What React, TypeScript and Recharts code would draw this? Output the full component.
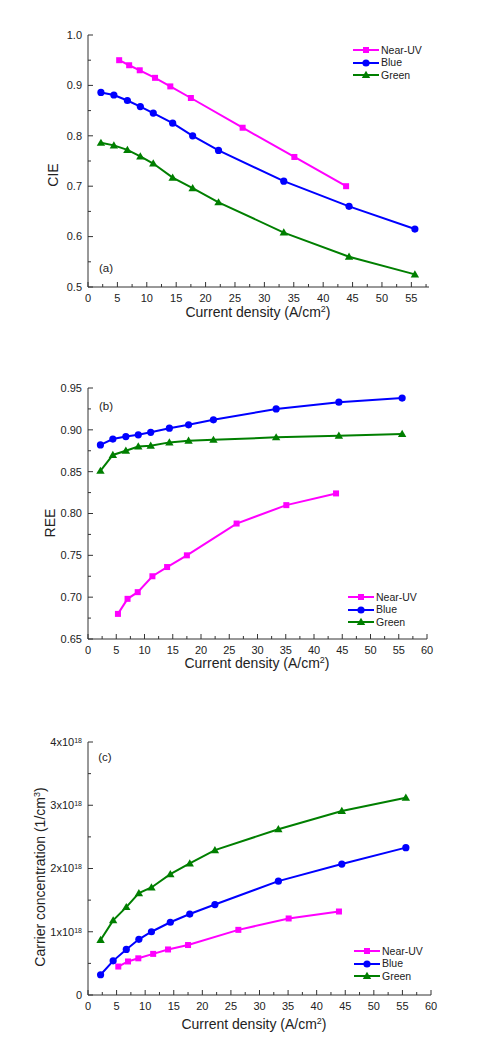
import React from 'react'
import { Line, LineChart, XAxis, YAxis } from 'recharts'

// ── Data ──

const currentNearUV = [5.3, 7.0, 8.8, 11.4, 14.0, 17.5, 26.3, 35.1, 43.9]
const currentBlueGreen = [2.2, 4.4, 6.7, 8.9, 11.1, 14.4, 17.8, 22.2, 33.3, 44.4, 55.6]

const cieNearUV = [0.95, 0.94, 0.93, 0.915, 0.898, 0.875, 0.816, 0.758, 0.7]
const cieBlue = [0.886, 0.881, 0.87, 0.858, 0.845, 0.825, 0.8, 0.771, 0.71, 0.66, 0.615]
const cieGreen = [0.786, 0.781, 0.772, 0.759, 0.745, 0.717, 0.696, 0.668, 0.608, 0.56, 0.525]

const reeNearUV = [0.68, 0.698, 0.706, 0.725, 0.736, 0.75, 0.788, 0.81, 0.824]
const reeBlue = [0.882, 0.889, 0.892, 0.894, 0.897, 0.902, 0.906, 0.912, 0.925, 0.933, 0.938]
const reeGreen = [0.851, 0.87, 0.875, 0.88, 0.881, 0.885, 0.887, 0.888, 0.891, 0.893, 0.895]

const carrierNearUV = [0.45e18, 0.53e18, 0.58e18, 0.65e18, 0.72e18, 0.79e18, 1.03e18, 1.21e18, 1.32e18]
const carrierBlue = [0.32e18, 0.54e18, 0.72e18, 0.88e18, 1.0e18, 1.15e18, 1.28e18, 1.43e18, 1.8e18, 2.07e18, 2.33e18]
const carrierGreen = [0.87e18, 1.18e18, 1.39e18, 1.61e18, 1.7e18, 1.91e18, 2.08e18, 2.29e18, 2.62e18, 2.91e18, 3.12e18]

const xMajorA = [0, 5, 10, 15, 20, 25, 30, 35, 40, 45, 50, 55]
const xMajorBC = [0, 5, 10, 15, 20, 25, 30, 35, 40, 45, 50, 55, 60]
const yMajorA = [0.5, 0.6, 0.7, 0.8, 0.9, 1.0]
const yMajorB = [0.65, 0.7, 0.75, 0.8, 0.85, 0.9, 0.95]
const yMajorC = [0, 1e18, 2e18, 3e18, 4e18]

const SERIES = ['Near-UV', 'Blue', 'Green']

// ── Style ──

const COLORS = { nuv: '#ff00ff', blue: '#0000ff', green: '#007f00' }
const AXIS = '#333333'
const TEXT = '#222222'
const FONT = '"Liberation Sans", Arial, Helvetica, sans-serif'

const zip = (xs: number[], ys: number[]) => xs.map((x, i) => ({ x, y: ys[i] }))

// majors plus midpoints for the minor ticks
function withMinor(majors: number[], stopAt?: number) {
  const out: number[] = []
  majors.forEach((m, i) => {
    out.push(m)
    const next = i < majors.length - 1 ? majors[i + 1] : stopAt !== undefined ? m + (m - majors[i - 1]) : undefined
    if (next !== undefined) {
      const mid = (m + next) / 2
      if (stopAt === undefined || mid <= stopAt) out.push(mid)
    }
  })
  return out
}

// ── Markers ──

function Marker({ shape, cx, cy, color }: { shape: string; cx: number; cy: number; color: string }) {
  if (shape === 'square') return <rect fill={color} height={6} width={6} x={cx - 3} y={cy - 3} />
  if (shape === 'circle') return <circle cx={cx} cy={cy} fill={color} r={3.6} />
  return <polygon fill={color} points={`${cx},${cy - 4.2} ${cx + 4.2},${cy + 3} ${cx - 4.2},${cy + 3}`} />
}

const dotFor = (shape: string, color: string) => (p: any) => (
  <g key={`${shape}-${p.index}`}>
    <Marker color={color} cx={p.cx} cy={p.cy} shape={shape} />
  </g>
)

// ── Ticks: drawn inward, labels only on the bottom/left majors ──

type Side = 'bottom' | 'top' | 'left' | 'right'

function tickFor(side: Side, majors: number[], label?: (v: number) => React.ReactNode) {
  return (props: any) => {
    const { x, y, payload } = props
    const v = payload.value as number
    const major = majors.some((m) => Math.abs(m - v) < Math.abs(m) * 1e-6 + 1e-9)
    const len = major ? 5 : 3
    let line
    if (side === 'bottom') line = <line x1={x} x2={x} y1={y} y2={y - len} />
    else if (side === 'top') line = <line x1={x} x2={x} y1={y} y2={y + len} />
    else if (side === 'left') line = <line x1={x} x2={x + len} y1={y} y2={y} />
    else line = <line x1={x} x2={x - len} y1={y} y2={y} />
    return (
      <g>
        <g stroke={AXIS} strokeWidth={1}>{line}</g>
        {major && label && side === 'bottom' && (
          <text fill={TEXT} fontFamily={FONT} fontSize={11} textAnchor="middle" x={x} y={y + 15}>
            {label(v)}
          </text>
        )}
        {major && label && side === 'left' && (
          <text dy="0.35em" fill={TEXT} fontFamily={FONT} fontSize={11} textAnchor="end" x={x - 6} y={y}>
            {label(v)}
          </text>
        )}
      </g>
    )
  }
}

const fmtInt = (v: number) => String(v)
const fmtFixed = (d: number) => (v: number) => v.toFixed(d)
const fmtSci = (v: number) => {
  if (v === 0) return '0'
  const m = Math.round(v / 1e18)
  return (
    <>
      {`${m}x10`}
      <tspan baselineShift="super" fontSize={7}>
        18
      </tspan>
    </>
  )
}

// ── Legend (overlay, so it does not take room from the plot) ──

function LegendBox({ left, top }: { left: number; top: number }) {
  const rows = [
    { name: SERIES[0], color: COLORS.nuv, shape: 'square' },
    { name: SERIES[1], color: COLORS.blue, shape: 'circle' },
    { name: SERIES[2], color: COLORS.green, shape: 'triangle' },
  ]
  return (
    <div style={{ position: 'absolute', left, top, fontFamily: FONT, fontSize: 10.5, color: TEXT }}>
      {rows.map((r) => (
        <div key={r.name} style={{ display: 'flex', alignItems: 'center', height: 12.4 }}>
          <svg height={12} style={{ display: 'block' }} width={28}>
            <line stroke={r.color} strokeWidth={2} x1={1} x2={27} y1={6} y2={6} />
            <Marker color={r.color} cx={14} cy={6} shape={r.shape} />
          </svg>
          <span style={{ marginLeft: 1, lineHeight: 1 }}>{r.name}</span>
        </div>
      ))}
    </div>
  )
}

// ── Panel ──

type PanelProps = {
  top: number
  height: number
  plotTop: number
  plotBottom: number
  plotRight: number
  xDomain: [number, number]
  xMajor: number[]
  xTicks: number[]
  yDomain: [number, number]
  yMajor: number[]
  yTicks: number[]
  yFmt: (v: number) => React.ReactNode
  nuv: number[]
  blue: number[]
  green: number[]
  legendPos: { left: number; top: number }
  tag: string
  tagPos: { x: number; y: number }
  xTitle: { x: number; y: number }
  yTitle: { x: number; y: number; text: React.ReactNode }
}

function Panel(p: PanelProps) {
  const W = 500
  return (
    <div style={{ position: 'absolute', left: 0, top: p.top, width: W, height: p.height }}>
      <LineChart
        height={p.height}
        margin={{ top: p.plotTop - p.top, right: W - p.plotRight, bottom: 0, left: 0 }}
        width={W}
      >
        <XAxis
          axisLine={{ stroke: AXIS, strokeWidth: 1 }}
          dataKey="x"
          domain={p.xDomain}
          height={p.top + p.height - p.plotBottom}
          interval={0}
          tick={tickFor('bottom', p.xMajor, fmtInt)}
          tickLine={false}
          tickMargin={0}
          tickSize={0}
          ticks={p.xTicks}
          type="number"
          xAxisId="b"
        />
        <XAxis
          axisLine={{ stroke: AXIS, strokeWidth: 1 }}
          domain={p.xDomain}
          height={0}
          interval={0}
          orientation="top"
          tick={tickFor('top', p.xMajor)}
          tickLine={false}
          tickMargin={0}
          tickSize={0}
          ticks={p.xTicks}
          type="number"
          xAxisId="t"
        />
        <YAxis
          axisLine={{ stroke: AXIS, strokeWidth: 1 }}
          domain={p.yDomain}
          interval={0}
          tick={tickFor('left', p.yMajor, p.yFmt)}
          tickLine={false}
          tickMargin={0}
          tickSize={0}
          ticks={p.yTicks}
          type="number"
          width={88}
          yAxisId="l"
        />
        <YAxis
          axisLine={{ stroke: AXIS, strokeWidth: 1 }}
          domain={p.yDomain}
          interval={0}
          orientation="right"
          tick={tickFor('right', p.yMajor)}
          tickLine={false}
          tickMargin={0}
          tickSize={0}
          ticks={p.yTicks}
          type="number"
          width={0}
          yAxisId="r"
        />
        <Line
          data={zip(currentNearUV, p.nuv)}
          dataKey="y"
          dot={dotFor('square', COLORS.nuv)}
          isAnimationActive={false}
          name={SERIES[0]}
          stroke={COLORS.nuv}
          strokeWidth={2}
          type="linear"
          xAxisId="b"
          yAxisId="l"
        />
        <Line
          data={zip(currentBlueGreen, p.blue)}
          dataKey="y"
          dot={dotFor('circle', COLORS.blue)}
          isAnimationActive={false}
          name={SERIES[1]}
          stroke={COLORS.blue}
          strokeWidth={2}
          type="linear"
          xAxisId="b"
          yAxisId="l"
        />
        <Line
          data={zip(currentBlueGreen, p.green)}
          dataKey="y"
          dot={dotFor('triangle', COLORS.green)}
          isAnimationActive={false}
          name={SERIES[2]}
          stroke={COLORS.green}
          strokeWidth={2}
          type="linear"
          xAxisId="b"
          yAxisId="l"
        />
      </LineChart>

      <LegendBox left={p.legendPos.left} top={p.legendPos.top - p.top} />

      {/* panel tag */}
      <div
        style={{
          position: 'absolute',
          left: p.tagPos.x,
          top: p.tagPos.y - p.top,
          transform: 'translate(-50%, -50%)',
          fontFamily: FONT,
          fontSize: 11.5,
          color: TEXT,
          lineHeight: 1,
        }}
      >
        {p.tag}
      </div>

      {/* x title */}
      <div
        style={{
          position: 'absolute',
          left: p.xTitle.x,
          top: p.xTitle.y - p.top,
          transform: 'translate(-50%, -50%)',
          fontFamily: FONT,
          fontSize: 14,
          color: TEXT,
          whiteSpace: 'nowrap',
          lineHeight: 1,
        }}
      >
        Current density (A/cm<sup style={{ fontSize: 9 }}>2</sup>)
      </div>

      {/* y title */}
      <div
        style={{
          position: 'absolute',
          left: p.yTitle.x,
          top: p.yTitle.y - p.top,
          transform: 'translate(-50%, -50%) rotate(-90deg)',
          fontFamily: FONT,
          fontSize: 14,
          color: TEXT,
          whiteSpace: 'nowrap',
          lineHeight: 1,
        }}
      >
        {p.yTitle.text}
      </div>
    </div>
  )
}

export default function App() {
  return (
    <div
      style={{
        position: 'absolute',
        left: 0,
        top: 0,
        width: 500,
        height: 1053,
        background: '#ffffff',
        overflow: 'hidden',
      }}
    >
      <Panel
        blue={cieBlue}
        green={cieGreen}
        height={340}
        legendPos={{ left: 352, top: 44 }}
        nuv={cieNearUV}
        plotBottom={287}
        plotRight={429}
        plotTop={35}
        tag="(a)"
        tagPos={{ x: 106, y: 269 }}
        top={0}
        xDomain={[0, 58]}
        xMajor={xMajorA}
        xTicks={withMinor(xMajorA, 58)}
        xTitle={{ x: 258, y: 312 }}
        yDomain={[0.5, 1.0]}
        yFmt={fmtFixed(1)}
        yMajor={yMajorA}
        yTicks={withMinor(yMajorA)}
        yTitle={{ x: 53, y: 175, text: 'CIE' }}
      />
      <Panel
        blue={reeBlue}
        green={reeGreen}
        height={340}
        legendPos={{ left: 347, top: 591 }}
        nuv={reeNearUV}
        plotBottom={639}
        plotRight={427}
        plotTop={388}
        tag="(b)"
        tagPos={{ x: 106, y: 407 }}
        top={340}
        xDomain={[0, 60]}
        xMajor={xMajorBC}
        xTicks={withMinor(xMajorBC)}
        xTitle={{ x: 257, y: 663 }}
        yDomain={[0.65, 0.95]}
        yFmt={fmtFixed(2)}
        yMajor={yMajorB}
        yTicks={withMinor(yMajorB)}
        yTitle={{ x: 50, y: 523, text: 'REE' }}
      />
      <Panel
        blue={carrierBlue}
        green={carrierGreen}
        height={373}
        legendPos={{ left: 353, top: 945 }}
        nuv={carrierNearUV}
        plotBottom={995}
        plotRight={431}
        plotTop={742}
        tag="(c)"
        tagPos={{ x: 105, y: 758 }}
        top={680}
        xDomain={[0, 60]}
        xMajor={xMajorBC}
        xTicks={withMinor(xMajorBC)}
        xTitle={{ x: 254, y: 1024 }}
        yDomain={[0, 4e18]}
        yFmt={fmtSci}
        yMajor={yMajorC}
        yTicks={withMinor(yMajorC)}
        yTitle={{
          x: 40,
          y: 877,
          text: (
            <>
              Carrier concentration (1/cm<sup style={{ fontSize: 9 }}>3</sup>)
            </>
          ),
        }}
      />
    </div>
  )
}
